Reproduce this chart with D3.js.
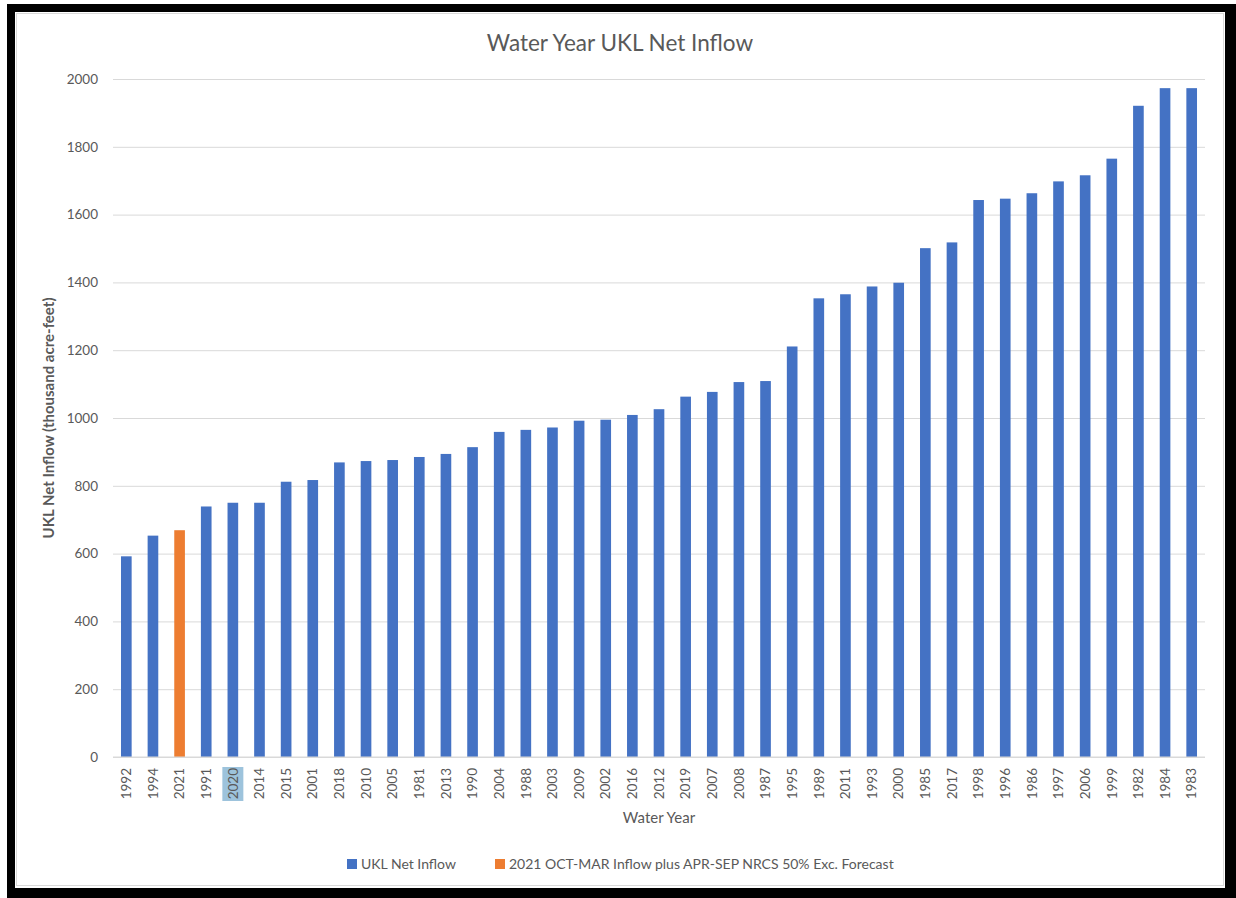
<!DOCTYPE html>
<html>
<head>
<meta charset="utf-8">
<script src="https://cdn.jsdelivr.net/npm/d3@7"></script>
<style>
  html, body { margin: 0; padding: 0; background: #fff; }
  svg text { font-family: Lato, "Open Sans", sans-serif; fill: #595959; }
</style>
</head>
<body>
<div id="chart"></div>
<script>
// Water years, sorted by inflow (as in the reference)
const years = ["1992", "1994", "2021", "1991", "2020", "2014", "2015", "2001", "2018", "2010",
    "2005", "1981", "2013", "1990", "2004", "1988", "2003", "2009", "2002", "2016",
    "2012", "2019", "2007", "2008", "1987", "1995", "1989", "2011", "1993", "2000",
    "1985", "2017", "1998", "1996", "1986", "1997", "2006", "1999", "1982", "1984", "1983"];

// UKL net inflow, thousand acre-feet
const inflow = [592, 653, 669, 739, 750, 750, 812, 817, 869, 873,
    876, 885, 894, 914, 959, 965, 972, 992, 995, 1009,
    1026, 1063, 1077, 1106, 1109, 1211, 1353, 1365, 1388, 1399,
    1501, 1518, 1643, 1647, 1663, 1698, 1716, 1765, 1921, 1973, 1973];

const forecastYear = "2021";
const highlightedLabel = "2020";
const yTicks = [0, 200, 400, 600, 800, 1000, 1200, 1400, 1600, 1800, 2000];

const legendItems = ["UKL Net Inflow", "2021 OCT-MAR Inflow plus APR-SEP NRCS 50% Exc. Forecast"];
const blue = "#4472c4";
const orange = "#ed7d31";

const W = 1236, H = 898;
const svg = d3.select("#chart").append("svg")
    .attr("width", W)
    .attr("height", H);

// Frame
svg.append("rect").attr("x", 7).attr("y", 4).attr("width", W - 7).attr("height", H - 4).attr("fill", "#000");
svg.append("rect").attr("x", 15).attr("y", 12).attr("width", 1210).attr("height", 876).attr("fill", "#fff");
svg.append("rect").attr("x", 16.5).attr("y", 13.5).attr("width", 1207).attr("height", 872)
    .attr("fill", "none").attr("stroke", "#d9d9d9");

// Scales
const x = d3.scaleBand()
    .domain(years)
    .range([113, 1205])
    .paddingInner(0.6)
    .paddingOuter(0.3);

const y = d3.scaleLinear()
    .domain([0, 2000])
    .range([757, 79]);

// Gridlines + y labels
const yAxis = d3.axisLeft(y)
    .tickValues(yTicks)
    .tickFormat(d3.format("d"))
    .tickSize(-(1205 - 113))
    .tickPadding(15);

svg.append("g")
    .attr("transform", "translate(113,0)")
    .call(yAxis)
    .call(g => g.select(".domain").remove())
    .call(g => g.selectAll(".tick line").attr("stroke", "#d9d9d9"))
    .call(g => g.selectAll(".tick text")
        .style("font-size", "13.5px")
        .attr("fill", "#595959"));

// Bars
svg.append("g")
    .selectAll("rect")
    .data(years)
    .enter()
    .append("rect")
    .attr("x", d => x(d))
    .attr("width", x.bandwidth())
    .attr("y", (d, i) => y(inflow[i]))
    .attr("height", (d, i) => y(0) - y(inflow[i]))
    .attr("fill", d => d === forecastYear ? orange : blue);

// X axis baseline
svg.append("line")
    .attr("x1", 113).attr("x2", 1205)
    .attr("y1", y(0)).attr("y2", y(0))
    .attr("stroke", "#d9d9d9");

// Highlighted category label background
svg.append("rect")
    .attr("x", x(highlightedLabel) + x.bandwidth() / 2 - 10.5)
    .attr("y", 767)
    .attr("width", 21)
    .attr("height", 34)
    .attr("fill", "#9dc3dc");

// X labels (rotated)
const xAxis = d3.axisBottom(x).tickSize(0).tickPadding(0);
svg.append("g")
    .attr("transform", `translate(0,${y(0)})`)
    .call(xAxis)
    .call(g => g.select(".domain").remove())
    .call(g => g.selectAll(".tick text")
        .style("font-size", "13.5px")
        .attr("fill", "#595959")
        .attr("transform", "rotate(-90)")
        .attr("text-anchor", "end")
        .attr("x", -11)
        .attr("y", 0)
        .attr("dy", "0.35em"));

// Title
svg.append("text")
    .attr("x", 620)
    .attr("y", 51)
    .attr("text-anchor", "middle")
    .style("font-size", "22.5px")
    .text("Water Year UKL Net Inflow");

// Axis titles
svg.append("text")
    .attr("x", 659)
    .attr("y", 823)
    .attr("text-anchor", "middle")
    .style("font-size", "15px")
    .text("Water Year");

svg.append("text")
    .attr("transform", "translate(54,418) rotate(-90)")
    .attr("text-anchor", "middle")
    .style("font-size", "15px")
    .style("font-weight", "bold")
    .text("UKL Net Inflow (thousand acre-feet)");

// Legend
const legend = svg.append("g").attr("transform", "translate(347,864)");
const legendX = [0, 148];
legendItems.forEach((label, i) => {
    legend.append("rect")
        .attr("x", legendX[i])
        .attr("y", -5)
        .attr("width", 10)
        .attr("height", 10)
        .attr("fill", i === 0 ? blue : orange);
    legend.append("text")
        .attr("x", legendX[i] + 14)
        .attr("y", 0)
        .attr("dy", "0.35em")
        .style("font-size", "14px")
        .text(label);
});
</script>
</body>
</html>
